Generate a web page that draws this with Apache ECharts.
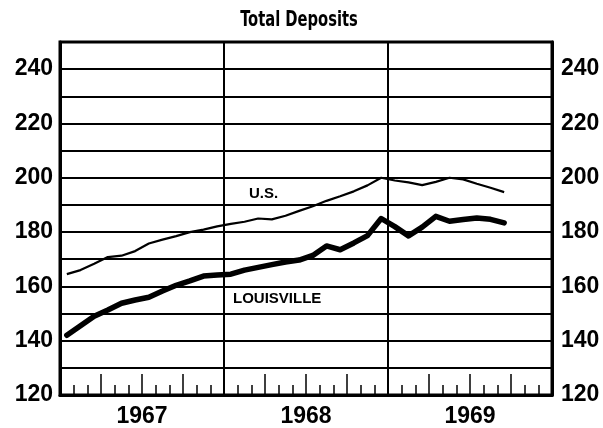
<!DOCTYPE html>
<html>
<head>
<meta charset="utf-8">
<script src="https://cdn.jsdelivr.net/npm/echarts@6/dist/echarts.min.js"></script>
<style>
  html, body { margin: 0; padding: 0; background: #fff; }
  #totalDeposits { width: 603px; height: 428px; }
</style>
</head>
<body>
<div id="totalDeposits"></div>
<script>
// 年份 / 月份
var years = ['1967', '1968', '1969']
var monthNames = ['Jan','Feb','Mar','Apr','May','Jun','Jul','Aug','Sep','Oct','Nov','Dec']
// 纵轴刻度
var yTicks = [120, 140, 160, 180, 200, 220, 240]

// 美国 (细线) Jan 1967 - Sep 1969
var usValues = [164.5, 166, 168.3, 170.8, 171.3, 173, 175.8, 177.2, 178.5, 180,
  180.9, 182.1, 183, 183.8, 185, 184.7, 186, 187.8, 189.5, 191.5,
  193.2, 195, 197.2, 200, 199, 198.3, 197.3, 198.5, 200, 199.4,
  197.8, 196.3, 194.7]
// 路易斯维尔 (粗线)
var louisvilleValues = [142, 145.5, 149, 151.3, 153.8, 155, 156, 158.3, 160.4, 162,
  163.8, 164.2, 164.5, 166, 167, 168, 169, 169.7, 171.4, 174.9,
  173.5, 176, 178.7, 185, 182, 178.6, 181.8, 185.8, 184, 184.6,
  185.2, 184.7, 183.4]

var months = []
for (var y = 0; y < years.length; y++) {
    for (var m = 0; m < 12; m++) {
        months.push(monthNames[m] + ' ' + years[y])
    }
}

var labelFont = { color: '#000', fontWeight: 'bold', fontSize: 23, fontFamily: 'Liberation Sans, Arial, sans-serif' }

function yLabel (v) {
    return yTicks.indexOf(v) >= 0 ? String(v) : ''
}

var chartDom = document.getElementById('totalDeposits')
var chart = echarts.init(chartDom)

var option = {
    backgroundColor: '#fff',
    animation: false,
    graphic: [
        // 标题 (窄粗体)
        { type: 'text', x: 299, y: 21, scaleX: 0.78, scaleY: 1,
          style: { text: 'Total Deposits', fill: '#000', align: 'center', verticalAlign: 'middle',
                   font: "bold 21px 'DejaVu Sans Condensed', 'DejaVu Sans', sans-serif" } },
        { type: 'text', left: 249, top: 186, style: { text: 'U.S.', fill: '#000', font: 'bold 15px Liberation Sans, Arial, sans-serif' } },
        { type: 'text', left: 233, top: 291, style: { text: 'LOUISVILLE', fill: '#000', font: 'bold 15px Liberation Sans, Arial, sans-serif' } }
    ],
    grid: {
        left: 60, right: 51, top: 42, bottom: 30,
        show: true, borderColor: '#000', borderWidth: 3
    },
    xAxis: [
        {
            // 每月短刻度
            type: 'category', data: months, boundaryGap: true, position: 'bottom', offset: 0,
            axisLine: { show: true, lineStyle: { color: '#000', width: 3 } },
            axisTick: { show: true, inside: true, length: 10, interval: 0, lineStyle: { color: '#000', width: 1.5 } },
            axisLabel: { show: false },
            splitLine: { show: false }
        },
        {
            // 每季度长刻度
            type: 'category', data: months, boundaryGap: true, position: 'bottom', offset: 0,
            axisLine: { show: false },
            axisTick: { show: true, inside: true, length: 21, interval: function (i) { return i % 3 === 0 }, lineStyle: { color: '#000', width: 1.5 } },
            axisLabel: { show: false },
            splitLine: { show: false }
        },
        {
            // 年份标签及分隔线
            type: 'category', data: years, boundaryGap: true, position: 'bottom', offset: 0,
            axisLine: { show: false },
            axisTick: { show: false },
            axisLabel: Object.assign({ margin: 10 }, labelFont),
            splitLine: { show: true, lineStyle: { color: '#000', width: 2 } }
        }
    ],
    yAxis: [
        {
            type: 'value', min: 120, max: 250, interval: 10, position: 'left',
            axisLine: { show: true, lineStyle: { color: '#000', width: 3 } },
            axisTick: { show: false },
            axisLabel: Object.assign({ margin: 7, formatter: yLabel }, labelFont),
            splitLine: { show: true, lineStyle: { color: '#000', width: 2 } }
        },
        {
            type: 'value', min: 120, max: 250, interval: 10, position: 'right',
            axisLine: { show: true, lineStyle: { color: '#000', width: 3 } },
            axisTick: { show: false },
            axisLabel: Object.assign({ margin: 9, formatter: yLabel }, labelFont),
            splitLine: { show: false }
        }
    ],
    series: [
        {
            name: 'U.S.', type: 'line', xAxisIndex: 0, yAxisIndex: 0,
            data: usValues, symbol: 'none',
            lineStyle: { color: '#000', width: 2.2 }
        },
        {
            name: 'LOUISVILLE', type: 'line', xAxisIndex: 0, yAxisIndex: 0,
            data: louisvilleValues, symbol: 'none',
            lineStyle: { color: '#000', width: 5.5, cap: 'round', join: 'round' }
        }
    ]
}

chart.setOption(option)

window.onresize = function () {
    chart.resize()
}
</script>
</body>
</html>
